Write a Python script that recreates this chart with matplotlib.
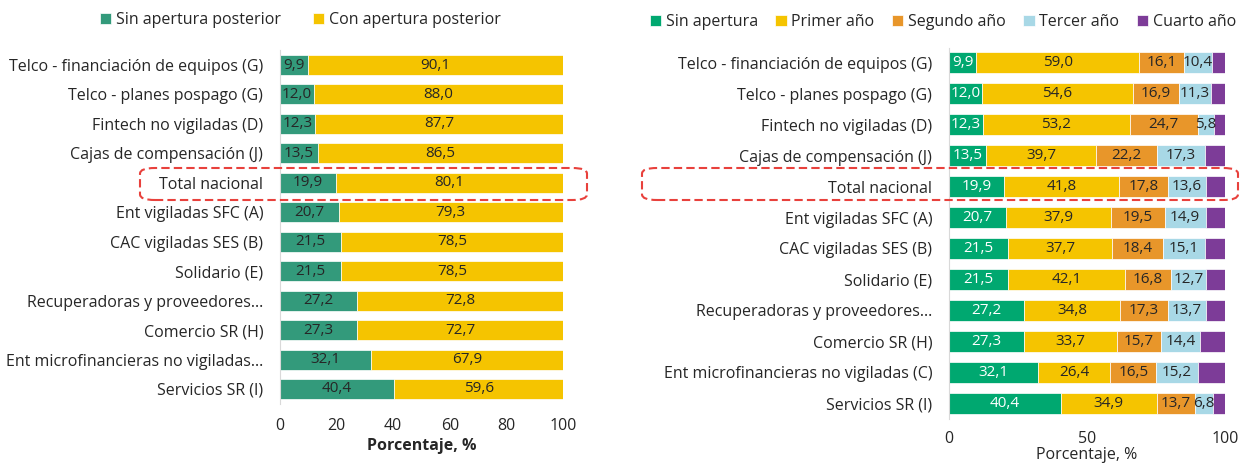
import matplotlib
matplotlib.use("Agg")
import matplotlib.pyplot as plt
from matplotlib.patches import FancyBboxPatch
import numpy as np

plt.rcParams['font.family'] = ['Open Sans', 'DejaVu Sans']

left_cats = ["Telco - financiación de equipos (G)", "Telco - planes pospago (G)",
             "Fintech no vigiladas (D)", "Cajas de compensación (J)", "Total nacional",
             "Ent vigiladas SFC (A)", "CAC vigiladas SES (B)", "Solidario (E)",
             "Recuperadoras y proveedores...", "Comercio SR (H)",
             "Ent microfinancieras no vigiladas...", "Servicios SR (I)"]
right_cats = ["Telco - financiación de equipos (G)", "Telco - planes pospago (G)",
              "Fintech no vigiladas (D)", "Cajas de compensación (J)", "Total nacional",
              "Ent vigiladas SFC (A)", "CAC vigiladas SES (B)", "Solidario (E)",
              "Recuperadoras y proveedores...", "Comercio SR (H)",
              "Ent microfinancieras no vigiladas (C)", "Servicios SR (I)"]

sin_apertura = [9.9, 12.0, 12.3, 13.5, 19.9, 20.7, 21.5, 21.5, 27.2, 27.3, 32.1, 40.4]
con_apertura = [90.1, 88.0, 87.7, 86.5, 80.1, 79.3, 78.5, 78.5, 72.8, 72.7, 67.9, 59.6]

primer = [59.0, 54.6, 53.2, 39.7, 41.8, 37.9, 37.7, 42.1, 34.8, 33.7, 26.4, 34.9]
segundo = [16.1, 16.9, 24.7, 22.2, 17.8, 19.5, 18.4, 16.8, 17.3, 15.7, 16.5, 13.7]
tercer = [10.4, 11.3, 5.8, 17.3, 13.6, 14.9, 15.1, 12.7, 13.7, 14.4, 15.2, 6.8]
cuarto = [4.6, 5.2, 4.0, 7.3, 6.9, 7.0, 7.3, 6.9, 7.0, 8.9, 9.8, 4.2]

def fmt(v):
    return f"{v:.1f}".replace(".", ",")

fig = plt.figure(figsize=(12.41, 4.63), dpi=100)
txt = "#262626"
FS = 11.5
VFS = 11

# Left chart
axL = fig.add_axes([280/1241, 1-403.7/463, 283/1241, 353.4/463])
y = np.arange(len(left_cats))
lcols = ["#339A7B", "#F5C400"]
lnames = ["Sin apertura posterior", "Con apertura posterior"]
left = np.zeros(len(y))
for vals, c, nm in zip([sin_apertura, con_apertura], lcols, lnames):
    vals = np.array(vals)
    axL.barh(y, vals, left=left, color=c, height=0.68, label=nm, edgecolor="white", linewidth=0.5)
    for yi, l, v in zip(y, left, vals):
        axL.text(l + v/2, yi, fmt(v), ha="center", va="center", fontsize=VFS, color=txt)
    left += vals
axL.set_ylim(len(y)-0.5, -0.5)
axL.set_xlim(0, 100)
axL.set_yticks(y)
axL.set_yticklabels(left_cats, fontsize=FS, color=txt)
axL.set_xticks([0, 20, 40, 60, 80, 100])
axL.tick_params(axis="both", length=0, labelsize=FS, colors=txt)
axL.tick_params(axis="y", pad=12)
axL.tick_params(axis="x", pad=10)
for s in ["top", "right", "bottom"]:
    axL.spines[s].set_visible(False)
axL.spines["left"].set_color("#D9D9D9")
axL.set_xlabel("Porcentaje, %", fontsize=FS, fontweight="bold", color=txt, labelpad=3)
axL.legend(loc="center", bbox_to_anchor=(300/1241, 1-20/463), bbox_transform=fig.transFigure,
           ncol=2, frameon=False, fontsize=FS, handlelength=0.7, handleheight=0.7,
           handletextpad=0.3, columnspacing=2.0, labelcolor=txt)

# Right chart
axR = fig.add_axes([949/1241, 1-418.5/463, 276/1241, 371/463])
rcols = ["#00A870", "#F5C400", "#E8962A", "#A8D8E6", "#7D3C98"]
rnames = ["Sin apertura", "Primer año", "Segundo año", "Tercer año", "Cuarto año"]
left = np.zeros(len(y))
for k, (vals, c, nm) in enumerate(zip([sin_apertura, primer, segundo, tercer, cuarto], rcols, rnames)):
    vals = np.array(vals)
    axR.barh(y, vals, left=left, color=c, height=0.68, label=nm, edgecolor="white", linewidth=0.5)
    if k < 4:
        for yi, l, v in zip(y, left, vals):
            axR.text(l + v/2, yi, fmt(v), ha="center", va="center", fontsize=VFS,
                     color="white" if k == 0 else txt)
    left += vals
axR.set_ylim(len(y)-0.5, -0.5)
axR.set_xlim(0, 100)
axR.set_yticks(y)
axR.set_yticklabels(right_cats, fontsize=FS, color=txt)
axR.set_xticks([0, 50, 100])
axR.tick_params(axis="both", length=0, labelsize=FS, colors=txt)
axR.tick_params(axis="y", pad=12)
axR.tick_params(axis="x", pad=9)
for s in ["top", "right", "bottom"]:
    axR.spines[s].set_visible(False)
axR.spines["left"].set_color("#D9D9D9")
axR.set_xlabel("Porcentaje, %", fontsize=FS, color=txt, labelpad=0)
axR.legend(loc="center", bbox_to_anchor=(943/1241, 1-22/463), bbox_transform=fig.transFigure,
           ncol=5, frameon=False, fontsize=FS, handlelength=0.7, handleheight=0.7,
           handletextpad=0.3, columnspacing=1.1, labelcolor=txt)

# Highlight boxes
for x0, x1 in [(140, 587), (642, 1238)]:
    box = FancyBboxPatch((x0/1241, 1-200/463), (x1-x0)/1241, 32/463,
                         boxstyle="round,pad=0,rounding_size=0.012",
                         transform=fig.transFigure, fill=False, edgecolor="#E8413C",
                         linestyle=(0, (4, 2)), linewidth=1.5, zorder=10)
    fig.add_artist(box)

fig.savefig("out.png", dpi=100)
